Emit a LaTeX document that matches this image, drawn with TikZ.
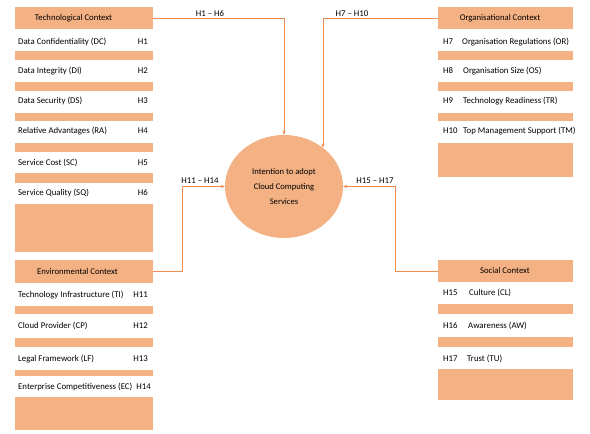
\documentclass[tikz,border=0pt]{standalone}
\usepackage{fontspec}
\setmainfont{Carlito}
\usetikzlibrary{arrows.meta,shapes.geometric}
\definecolor{fillor}{RGB}{244,177,131}
\definecolor{lineor}{RGB}{236,140,80}
\begin{document}
\begin{tikzpicture}[x=1pt,y=-1pt,
  head/.style={fill=fillor, inner sep=0pt, minimum width=138pt, minimum height=22pt},
  htxt/.style={inner sep=0pt, font=\fontsize{8.7}{10}\selectfont},
  itm/.style={inner sep=0pt, anchor=west, font=\fontsize{8.8}{10}\selectfont},
  hno/.style={inner sep=0pt, font=\fontsize{8.8}{10}\selectfont},
  conn/.style={draw=lineor, line width=0.8pt, -{Stealth[length=4pt,width=3.5pt]}},
  lbl/.style={inner sep=0.5pt, anchor=south, font=\fontsize{8.8}{10}\selectfont}]
\useasboundingbox (0,0) rectangle (590,434);

% ---- Technological context ----
\node[head] (tech) at (84,18) {};
\node[htxt] (techt) at (73.5,18) {Technological Context};
\foreach \a/\b in {51/60,82/91,113/121,143/152,173/183,204/252}
  \fill[fillor] (15,\a) rectangle (153,\b);
\node[itm] (dc) at (18,42) {Data Confidentiality (DC)};
\node[itm] (di) at (18,71) {Data Integrity (DI)};
\node[itm] (ds) at (18,101) {Data Security (DS)};
\node[itm] (ra) at (18,131) {Relative Advantages (RA)};
\node[itm] (sc) at (18,163) {Service Cost (SC)};
\node[itm] (sq) at (18,193) {Service Quality (SQ)};
\node[hno, anchor=east] (h1) at (148,42) {H1};
\node[hno, anchor=east] (h2) at (148,71) {H2};
\node[hno, anchor=east] (h3) at (148,101) {H3};
\node[hno, anchor=east] (h4) at (148,131) {H4};
\node[hno, anchor=east] (h5) at (148,163) {H5};
\node[hno, anchor=east] (h6) at (148,193) {H6};

% ---- Environmental context ----
\node[head, minimum height=23pt] (env) at (84,271.5) {};
\node[htxt] (envt) at (77.5,271.5) {Environmental Context};
\foreach \a/\b in {306/314,338/347,370/376,397/430}
  \fill[fillor] (15,\a) rectangle (153,\b);
\node[itm] (ti) at (18,295) {Technology Infrastructure (TI)};
\node[itm] (cp) at (18,326) {Cloud Provider (CP)};
\node[itm] (lf) at (18,359) {Legal Framework (LF)};
\node[itm] (ec) at (18,387) {Enterprise Competitiveness (EC)};
\node[hno, anchor=east] (h11) at (148,295) {H11};
\node[hno, anchor=east] (h12) at (148,326) {H12};
\node[hno, anchor=east] (h13) at (148,359) {H13};
\node[hno, anchor=east] (h14) at (151,387) {H14};

% ---- Organisational context ----
\node[head, minimum width=135pt] (org) at (505.5,18) {};
\node[htxt] (orgt) at (500,18) {Organisational Context};
\foreach \a/\b in {51/60,82/91,113/121,143/177}
  \fill[fillor] (438,\a) rectangle (573,\b);
\node[hno, anchor=west] (h7) at (443,42) {H7};
\node[hno, anchor=west] (h8) at (443,71) {H8};
\node[hno, anchor=west] (h9) at (443,101) {H9};
\node[hno, anchor=west] (h10) at (443,131) {H10};
\node[itm] (or) at (462,42) {Organisation Regulations (OR)};
\node[itm] (os) at (463,71) {Organisation Size (OS)};
\node[itm] (tr) at (463,101) {Technology Readiness (TR)};
\node[itm] (tm) at (463,131) {Top Management Support (TM)};

% ---- Social context ----
\node[head, minimum width=135pt] (soc) at (505.5,271) {};
\node[htxt] (soct) at (505,271) {Social Context};
\foreach \a/\b in {304/314,337/347,369/400}
  \fill[fillor] (438,\a) rectangle (573,\b);
\node[hno, anchor=west] (h15) at (443,293) {H15};
\node[hno, anchor=west] (h16) at (443,326) {H16};
\node[hno, anchor=west] (h17) at (443,359) {H17};
\node[itm] (cl) at (469,293) {Culture (CL)};
\node[itm] (aw) at (468,326) {Awareness (AW)};
\node[itm] (tu) at (467,359) {Trust (TU)};

% ---- Central construct ----
\node[ellipse, fill=fillor, minimum width=118pt, minimum height=103pt, inner sep=0pt,
      align=center, font=\fontsize{8.6}{15}\selectfont] (ell) at (284,186.5)
  {Intention to adopt\\Cloud Computing\\Services};

% ---- Connectors ----
\coordinate (envbend) at (182,271.5);
\coordinate (socbend) at (395,271);
\draw[conn] (tech.east) -| (ell.north);
\draw[conn] (org.west) -| (ell.45);
\draw[conn] (env.east) -- (envbend) |- (ell.west);
\draw[conn] (soc.west) -- (socbend) |- (ell.east);

\node[lbl] (l1) at (210,17) {H1 -- H6};
\node[lbl] (l2) at (352,17) {H7 -- H10};
\node[lbl] (l3) at (200,184) {H11 -- H14};
\node[lbl] (l4) at (375,184) {H15 -- H17};
\end{tikzpicture}
\end{document}
